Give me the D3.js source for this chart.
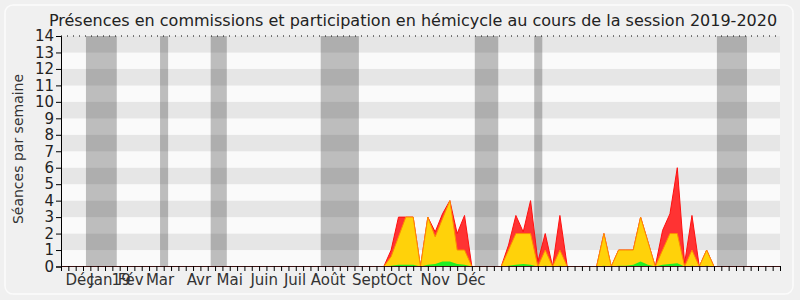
<!DOCTYPE html>
<html>
<head>
<meta charset="utf-8">
<script src="https://cdn.jsdelivr.net/npm/d3@7"></script>
<style>
  html, body { margin: 0; padding: 0; background: #f0f0f0; }
  svg { display: block; }
</style>
</head>
<body>
<div id="chart"></div>
<script>
// Presences chart - weekly sessions, session 2019-2020

const title = "Présences en commissions et participation en hémicycle au cours de la session 2019-2020";
const yLabel = "Séances par semaine";

// weeks 0..98
const hemicycle = [
  0, 0, 0, 0, 0, 0, 0, 0, 0, 0,
  0, 0, 0, 0, 0, 0, 0, 0, 0, 0,
  0, 0, 0, 0, 0, 0, 0, 0, 0, 0,
  0, 0, 0, 0, 0, 0, 0, 0, 0, 0,
  0, 0, 0, 0, 0, 1.0, 3.0, 3.0, 3.0, 0,
  3.0, 2.1, 3.2, 4.0, 2.0, 3.1, 0, 0, 0, 0,
  0, 1.3, 3.1, 2.1, 4.0, 0.3, 2.0, 0, 3.1, 0,
  0, 0, 0, 0, 2.0, 0, 1.0, 1.0, 1.0, 3.0,
  1.5, 0, 2.2, 3.2, 6.0, 0.2, 3.1, 0, 1.0, 0,
  0, 0, 0, 0, 0, 0, 0, 0, 0
];

const commissions = [
  0, 0, 0, 0, 0, 0, 0, 0, 0, 0,
  0, 0, 0, 0, 0, 0, 0, 0, 0, 0,
  0, 0, 0, 0, 0, 0, 0, 0, 0, 0,
  0, 0, 0, 0, 0, 0, 0, 0, 0, 0,
  0, 0, 0, 0, 0, 0.6, 1.8, 3.0, 3.0, 0,
  3.0, 1.8, 2.9, 4.0, 1.0, 1.0, 0, 0, 0, 0,
  0, 1.0, 2.0, 2.0, 2.0, 0, 1.0, 0, 1.0, 0,
  0, 0, 0, 0, 2.0, 0, 1.0, 1.0, 1.0, 3.0,
  1.5, 0, 1.0, 2.0, 2.0, 0, 1.0, 0, 1.0, 0,
  0, 0, 0, 0, 0, 0, 0, 0, 0
];

const questions = [
  0, 0, 0, 0, 0, 0, 0, 0, 0, 0,
  0, 0, 0, 0, 0, 0, 0, 0, 0, 0,
  0, 0, 0, 0, 0, 0, 0, 0, 0, 0,
  0, 0, 0, 0, 0, 0, 0, 0, 0, 0,
  0, 0, 0, 0, 0, 0.05, 0.1, 0.1, 0.1, 0,
  0.1, 0.15, 0.3, 0.3, 0.15, 0.1, 0, 0, 0, 0,
  0, 0.05, 0.1, 0.15, 0.1, 0, 0.05, 0, 0.05, 0,
  0, 0, 0, 0, 0.05, 0, 0.05, 0.05, 0.1, 0.3,
  0.1, 0, 0.1, 0.15, 0.2, 0, 0.05, 0, 0.05, 0,
  0, 0, 0, 0, 0, 0, 0, 0, 0
];

// holidays (in weeks)
const vacStart = [3.4, 13.5, 20.4, 35.4, 56.4, 64.5, 89.4];
const vacEnd   = [7.6, 14.6, 22.6, 40.6, 59.6, 65.6, 93.5];

// month labels (week position of label centre)
const monthLabels = ["Déc", "Jan", "19", "Fév", "Mar", "Avr", "Mai", "Juin", "Juil", "Août", "Sept", "Oct", "Nov", "Déc"];
const monthPos    = [2.6, 5.45, 8.2, 9.5, 13.5, 18.8, 23.0, 27.7, 31.9, 36.4, 42.0, 46.1, 51.0, 55.9];

const yTicks = d3.range(0, 15);

const W = 800, H = 300;
const font = "DejaVu Sans, Verdana, sans-serif";

const svg = d3.select("#chart").append("svg")
    .attr("width", W)
    .attr("height", H);

// panel
svg.append("rect")
    .attr("x", 5).attr("y", 5)
    .attr("width", 788).attr("height", 289)
    .attr("rx", 8).attr("ry", 8)
    .attr("fill", "#f0f0f0")
    .attr("stroke", "#fbfbfb")
    .attr("stroke-width", 1.5);

const weeks = d3.range(hemicycle.length);
const x = d3.scaleLinear().domain([0, weeks.length - 1]).range([61, 780]);
const y = d3.scaleLinear().domain([0, 14]).range([266.5, 36]);

// horizontal bands
svg.append("g")
    .selectAll("rect")
    .data(d3.range(0, 14))
    .enter()
    .append("rect")
    .attr("x", x(0))
    .attr("width", x(weeks.length - 1) - x(0))
    .attr("y", d => y(d + 1))
    .attr("height", d => y(d) - y(d + 1))
    .attr("fill", d => d % 2 === 1 ? "#e6e6e6" : "#fafafa");

// holidays
svg.append("g")
    .selectAll("rect")
    .data(vacStart)
    .enter()
    .append("rect")
    .attr("x", d => x(d))
    .attr("width", (d, i) => x(vacEnd[i]) - x(d))
    .attr("y", y(14))
    .attr("height", y(0) - y(14))
    .attr("fill", "#000")
    .attr("fill-opacity", 0.245);

// top dotted line
svg.append("line")
    .attr("x1", x(0)).attr("x2", x(weeks.length - 1))
    .attr("y1", y(14)).attr("y2", y(14))
    .attr("stroke", "#000")
    .attr("stroke-dasharray", "1,5");

function area(values) {
    return d3.area()
        .x((d, i) => x(i))
        .y0(y(0))
        .y1(d => y(d))(values);
}

svg.append("path")
    .attr("d", area(hemicycle))
    .attr("fill", "#ff3333")
    .attr("stroke", "#ff1010")
    .attr("stroke-width", 1);

svg.append("path")
    .attr("d", area(commissions))
    .attr("fill", "#ffd20a")
    .attr("stroke", "#ff8c00")
    .attr("stroke-width", 1);

svg.append("path")
    .attr("d", area(questions))
    .attr("fill", "#22ee22")
    .attr("stroke", "none");

// axes
const yAxis = svg.append("g")
    .attr("transform", `translate(${x(0)},0)`)
    .call(d3.axisLeft(y).tickValues(yTicks).tickSize(5).tickPadding(2).tickFormat(d3.format("d")));

// d3 adds a half pixel, so shift back to sit on the baseline
const xAxis = svg.append("g")
    .attr("transform", `translate(0,${y(0) - 0.5})`)
    .call(d3.axisBottom(x).tickValues(weeks).tickSize(5).tickFormat(""));

xAxis.select(".domain").attr("stroke", "#3a1010");
yAxis.selectAll("text")
    .attr("font-family", font)
    .attr("font-size", 15)
    .attr("fill", "#222");

svg.append("g")
    .selectAll("text")
    .data(monthLabels)
    .enter()
    .append("text")
    .attr("x", (d, i) => x(monthPos[i]))
    .attr("y", 285)
    .attr("text-anchor", "middle")
    .attr("font-family", font)
    .attr("font-size", 15)
    .attr("fill", "#333")
    .text(d => d);

// titles
svg.append("text")
    .attr("x", 413)
    .attr("y", 26)
    .attr("text-anchor", "middle")
    .attr("font-family", font)
    .attr("font-size", 16)
    .attr("fill", "#222")
    .text(title);

svg.append("text")
    .attr("transform", "translate(23,149) rotate(-90)")
    .attr("text-anchor", "middle")
    .attr("font-family", font)
    .attr("font-size", 14)
    .attr("fill", "#333")
    .text(yLabel);
</script>
</body>
</html>
